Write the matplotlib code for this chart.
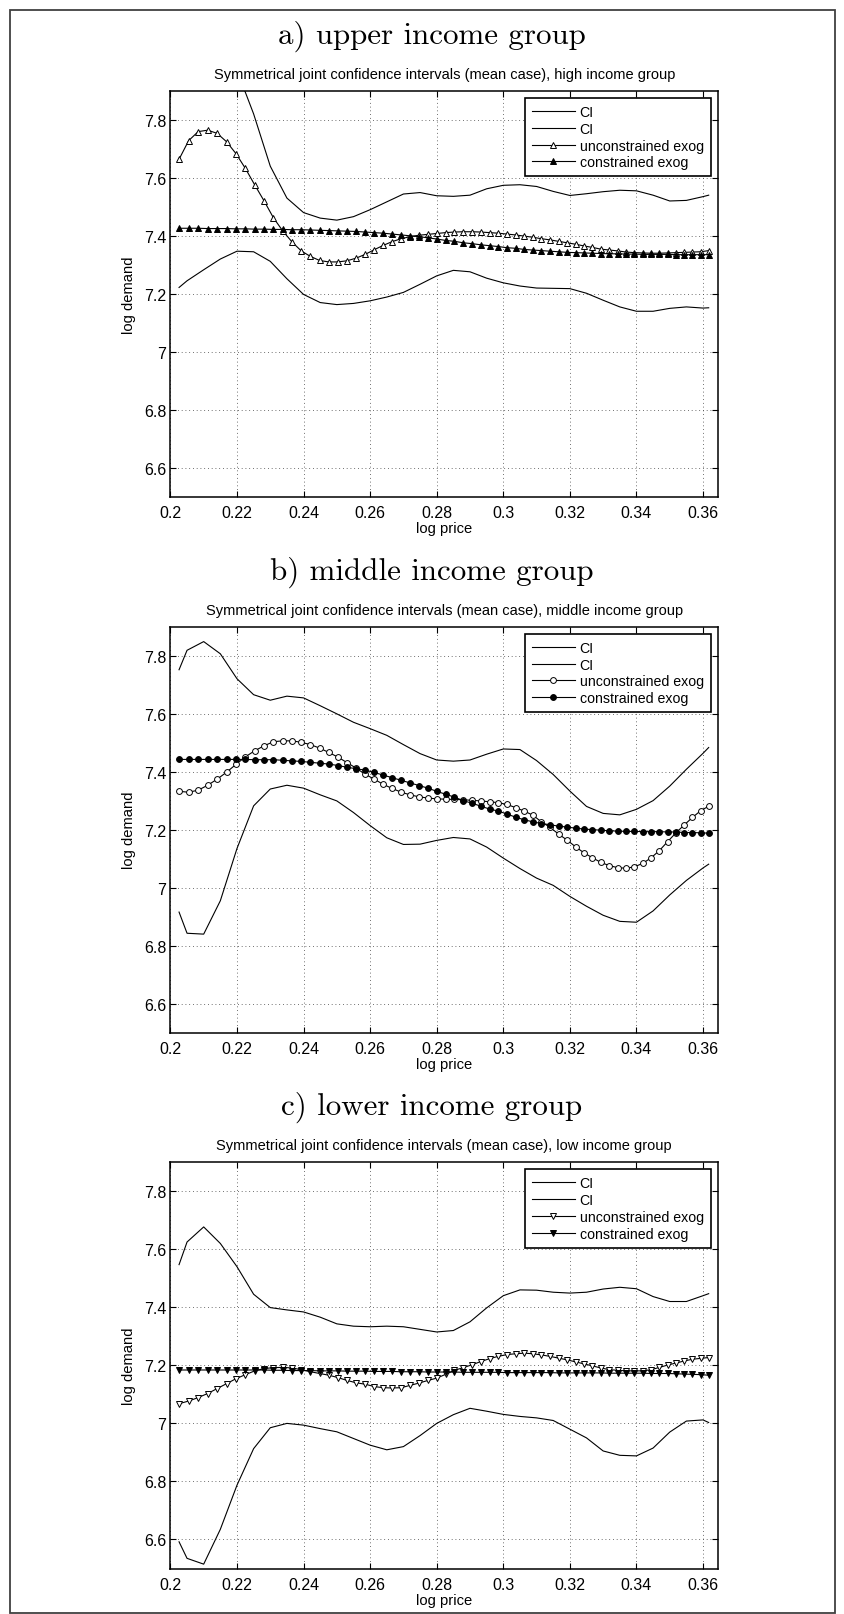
import numpy as np
import matplotlib
matplotlib.use("Agg")
from matplotlib import pyplot as plt
from matplotlib.patches import Rectangle

plt.rcParams['font.family'] = ['Liberation Sans', 'DejaVu Sans']

# price grid (evenly spaced prices, plotted in logs)
price = np.linspace(1.2246, 1.4358, 61)
log_price = np.log(price)

ci_x = [0.2026, 0.205, 0.21, 0.215, 0.22, 0.225, 0.23, 0.235, 0.24, 0.245,
        0.25, 0.255, 0.26, 0.265, 0.27, 0.275, 0.28, 0.285, 0.29, 0.295,
        0.30, 0.305, 0.31, 0.315, 0.32, 0.325, 0.33, 0.335, 0.34, 0.345,
        0.35, 0.355, 0.36, 0.3617]

# a) upper income group
a_ci_up = [8.58, 8.50, 8.32, 8.15, 7.97, 7.82, 7.64, 7.53, 7.48, 7.461,
           7.454, 7.466, 7.490, 7.517, 7.544, 7.549, 7.538, 7.536, 7.540, 7.562,
           7.574, 7.576, 7.570, 7.553, 7.539, 7.545, 7.552, 7.557, 7.555, 7.540,
           7.520, 7.522, 7.535, 7.540]
a_ci_lo = [7.222, 7.245, 7.283, 7.320, 7.347, 7.345, 7.312, 7.252, 7.198, 7.170,
           7.163, 7.167, 7.176, 7.189, 7.205, 7.233, 7.262, 7.281, 7.276, 7.254,
           7.238, 7.227, 7.220, 7.219, 7.218, 7.202, 7.178, 7.155, 7.140, 7.140,
           7.150, 7.155, 7.151, 7.152]
a_unc = [7.664, 7.728, 7.759, 7.764, 7.753, 7.724, 7.683, 7.632, 7.575, 7.520,
         7.462, 7.417, 7.379, 7.348, 7.329, 7.315, 7.310, 7.310, 7.314, 7.323,
         7.336, 7.352, 7.367, 7.380, 7.390, 7.397, 7.402, 7.405, 7.408, 7.411,
         7.413, 7.414, 7.414, 7.413, 7.411, 7.409, 7.406, 7.403, 7.399, 7.395,
         7.390, 7.386, 7.381, 7.376, 7.371, 7.365, 7.360, 7.354, 7.351, 7.348,
         7.344, 7.342, 7.341, 7.340, 7.340, 7.341, 7.342, 7.343, 7.344, 7.345, 7.349]
a_con = [7.426, 7.426, 7.426, 7.425, 7.425, 7.425, 7.424, 7.424, 7.423, 7.423,
         7.422, 7.422, 7.421, 7.421, 7.420, 7.419, 7.418, 7.417, 7.416, 7.415,
         7.413, 7.411, 7.409, 7.406, 7.403, 7.400, 7.397, 7.393, 7.389, 7.384,
         7.381, 7.376, 7.373, 7.369, 7.366, 7.363, 7.359, 7.357, 7.353, 7.351,
         7.349, 7.347, 7.345, 7.343, 7.342, 7.341, 7.340, 7.339, 7.338, 7.338,
         7.337, 7.337, 7.336, 7.336, 7.336, 7.336, 7.335, 7.335, 7.335, 7.335, 7.335]

# b) middle income group
b_ci_up = [7.751, 7.818, 7.848, 7.806, 7.720, 7.665, 7.646, 7.660, 7.654, 7.627,
           7.599, 7.570, 7.548, 7.525, 7.493, 7.462, 7.440, 7.436, 7.440, 7.460,
           7.478, 7.476, 7.438, 7.390, 7.333, 7.280, 7.256, 7.251, 7.270, 7.300,
           7.350, 7.408, 7.463, 7.483]
b_ci_lo = [6.916, 6.843, 6.840, 6.955, 7.135, 7.282, 7.340, 7.353, 7.343, 7.320,
           7.299, 7.259, 7.214, 7.172, 7.149, 7.150, 7.163, 7.173, 7.168, 7.140,
           7.102, 7.066, 7.033, 7.008, 6.970, 6.936, 6.905, 6.884, 6.881, 6.920,
           6.975, 7.025, 7.068, 7.081]
b_unc = [7.332, 7.329, 7.336, 7.353, 7.374, 7.398, 7.425, 7.451, 7.472, 7.489,
         7.503, 7.506, 7.506, 7.501, 7.493, 7.481, 7.466, 7.450, 7.431, 7.412,
         7.391, 7.374, 7.356, 7.342, 7.329, 7.320, 7.313, 7.309, 7.306, 7.305,
         7.304, 7.303, 7.301, 7.299, 7.296, 7.293, 7.287, 7.276, 7.264, 7.250,
         7.227, 7.208, 7.185, 7.164, 7.141, 7.120, 7.103, 7.087, 7.076, 7.069,
         7.067, 7.072, 7.084, 7.103, 7.128, 7.159, 7.189, 7.216, 7.242, 7.265, 7.281]
b_con = [7.442, 7.442, 7.442, 7.442, 7.442, 7.442, 7.442, 7.442, 7.441, 7.441,
         7.441, 7.439, 7.437, 7.435, 7.432, 7.429, 7.426, 7.421, 7.415, 7.410,
         7.405, 7.397, 7.388, 7.379, 7.370, 7.361, 7.352, 7.343, 7.332, 7.322,
         7.312, 7.300, 7.291, 7.281, 7.271, 7.264, 7.254, 7.243, 7.234, 7.227,
         7.221, 7.217, 7.212, 7.209, 7.205, 7.202, 7.200, 7.198, 7.196, 7.195,
         7.194, 7.194, 7.193, 7.193, 7.193, 7.192, 7.192, 7.190, 7.190, 7.189, 7.188]

# c) lower income group
c_ci_up = [7.547, 7.625, 7.677, 7.620, 7.540, 7.445, 7.399, 7.391, 7.384, 7.366,
           7.343, 7.335, 7.333, 7.335, 7.333, 7.324, 7.315, 7.320, 7.350, 7.398,
           7.440, 7.460, 7.459, 7.452, 7.449, 7.452, 7.463, 7.469, 7.464, 7.437,
           7.420, 7.420, 7.440, 7.447]
c_ci_lo = [6.592, 6.535, 6.515, 6.635, 6.787, 6.913, 6.985, 7.000, 6.994, 6.982,
           6.971, 6.948, 6.925, 6.909, 6.920, 6.958, 7.000, 7.030, 7.052, 7.042,
           7.031, 7.024, 7.019, 7.010, 6.980, 6.950, 6.905, 6.890, 6.888, 6.915,
           6.970, 7.008, 7.012, 7.003]
c_unc = [7.068, 7.077, 7.089, 7.103, 7.120, 7.137, 7.154, 7.168, 7.181, 7.189,
         7.192, 7.193, 7.191, 7.185, 7.178, 7.172, 7.166, 7.158, 7.148, 7.140,
         7.135, 7.127, 7.123, 7.122, 7.123, 7.131, 7.139, 7.148, 7.156, 7.169,
         7.183, 7.192, 7.202, 7.213, 7.223, 7.231, 7.237, 7.240, 7.242, 7.240,
         7.236, 7.231, 7.225, 7.219, 7.212, 7.205, 7.198, 7.191, 7.185, 7.183,
         7.181, 7.181, 7.181, 7.185, 7.193, 7.201, 7.208, 7.215, 7.221, 7.224, 7.227]
c_con = [7.184, 7.184, 7.184, 7.184, 7.184, 7.184, 7.184, 7.184, 7.184, 7.184,
         7.183, 7.183, 7.182, 7.182, 7.182, 7.181, 7.181, 7.181, 7.180, 7.180,
         7.180, 7.179, 7.179, 7.179, 7.178, 7.178, 7.178, 7.177, 7.177, 7.177,
         7.177, 7.176, 7.176, 7.176, 7.176, 7.176, 7.175, 7.175, 7.175, 7.175,
         7.175, 7.175, 7.174, 7.174, 7.174, 7.174, 7.174, 7.174, 7.173, 7.173,
         7.173, 7.173, 7.173, 7.172, 7.172, 7.172, 7.171, 7.170, 7.169, 7.168, 7.166]

x_ticks = [0.2, 0.22, 0.24, 0.26, 0.28, 0.3, 0.32, 0.34, 0.36]
x_ticklabels = ['0.2', '0.22', '0.24', '0.26', '0.28', '0.3', '0.32', '0.34', '0.36']
y_ticks = [6.6, 6.8, 7.0, 7.2, 7.4, 7.6, 7.8]
y_ticklabels = ['6.6', '6.8', '7', '7.2', '7.4', '7.6', '7.8']

panels = [
    ('a) upper income group', 'high income group', '^', a_ci_up, a_ci_lo, a_unc, a_con, 36, 91.7),
    ('b) middle income group', 'middle income group', 'o', b_ci_up, b_ci_lo, b_unc, b_con, 572.7, 627.5),
    ('c) lower income group', 'low income group', 'v', c_ci_up, c_ci_lo, c_unc, c_con, 1107.7, 1163.2),
]

W, H = 845, 1615
fig = plt.figure(figsize=(W / 100, H / 100), dpi=100)

# outer frame around the whole figure
fig.patches.append(Rectangle((10 / W, 1 / H), 825 / W, 1603 / H, transform=fig.transFigure,
                             fill=False, edgecolor='0.25', linewidth=1.3))

ax_left, ax_right, ax_h = 170.4, 718.0, 406.3

for title, group, mk, ci_up, ci_lo, unc, con, title_y, top in panels:
    ax = fig.add_axes([ax_left / W, 1 - (top + ax_h) / H, (ax_right - ax_left) / W, ax_h / H])
    fig.text(432 / W, 1 - title_y / H, title, family='cmr10', fontsize=22.3,
             ha='center', va='center')

    ms = 4.2 if mk == 'o' else 4.8
    ax.plot(ci_x, ci_up, color='black', lw=0.8, label='CI')
    ax.plot(ci_x, ci_lo, color='black', lw=0.8, label='CI')
    ax.plot(log_price, unc, color='black', lw=0.8, marker=mk, ms=ms, mfc='white',
            mec='black', mew=0.7, label='unconstrained exog')
    ax.plot(log_price, con, color='black', lw=0.8, marker=mk, ms=ms, mfc='black',
            mec='black', mew=0.7, label='constrained exog')

    ax.set_xlim(0.2, 0.3645)
    ax.set_ylim(6.5, 7.9)
    ax.set_xticks(x_ticks)
    ax.set_xticklabels(x_ticklabels)
    ax.set_yticks(y_ticks)
    ax.set_yticklabels(y_ticklabels)
    ax.tick_params(direction='in', top=True, right=True, length=4, width=0.8,
                   labelsize=11.5)
    ax.tick_params(axis='x', pad=6)
    ax.tick_params(axis='y', pad=3)
    ax.grid(True, color='0.25', linestyle=(0, (1, 3.5)), linewidth=0.6)
    for s in ax.spines.values():
        s.set_linewidth(1.1)

    ax.set_xlabel('log price', fontsize=10.6, labelpad=0.5)
    ax.set_ylabel('log demand', fontsize=10.6, labelpad=6)
    ax.text(0.5, 1 + 16.7 / ax_h,
            'Symmetrical joint confidence intervals (mean case), ' + group,
            transform=ax.transAxes, ha='center', va='center', fontsize=10.5)

    leg = ax.legend(loc='upper right', fontsize=10.2, fancybox=False, framealpha=1,
                    edgecolor='black', borderaxespad=0.5, handlelength=3.0,
                    handletextpad=0.35, labelspacing=0.2, borderpad=0.5,
                    numpoints=1)
    leg.get_frame().set_linewidth(1.2)

fig.savefig('out.png', dpi=100)
